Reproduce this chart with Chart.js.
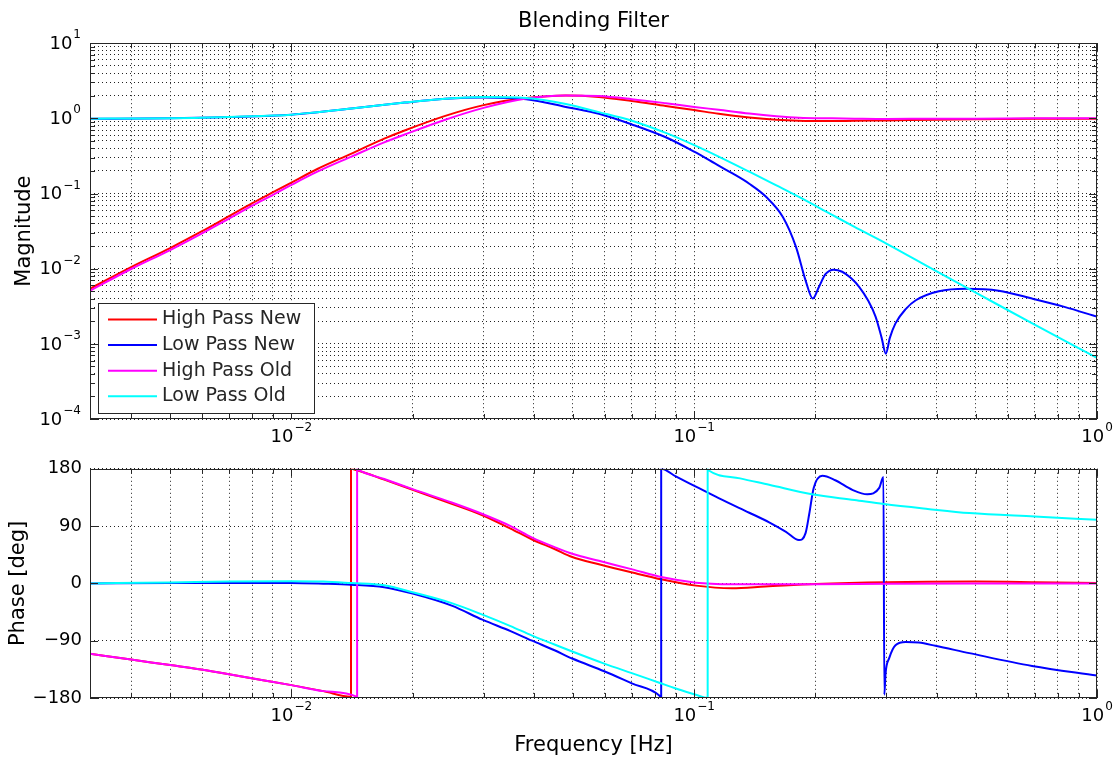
<!DOCTYPE html>
<html lang="en">
<head>
<meta charset="UTF-8">
<title>Blending Filter</title>
<script src="https://cdn.jsdelivr.net/npm/chart.js"></script>
<style>
  body { margin: 0; background: #fff; }
  #wrap { position: relative; width: 1116px; height: 760px; }
  canvas { position: absolute; left: 0; }
  #magChart { top: 0; }
  #phaseChart { top: 450px; }
</style>
</head>
<body>
<div id="wrap">
  <canvas id="magChart" width="1116" height="450"></canvas>
  <canvas id="phaseChart" width="1116" height="310"></canvas>
</div>
<script>
// ---- values ----
const seriesLabels = ['High Pass New', 'Low Pass New', 'High Pass Old', 'Low Pass Old'];
const seriesColors = ['#ff0000', '#0000ff', '#ff00ff', '#00ffff'];

// magnitude: shared frequency grid (Hz) for HP new, HP old, LP old
const magFreq = [0.00316, 0.004, 0.005, 0.006, 0.007, 0.008, 0.009, 0.01, 0.0116, 0.0141, 0.017, 0.0191, 0.0241, 0.03, 0.0383, 0.048, 0.058, 0.07, 0.085, 0.1, 0.115, 0.137, 0.16, 0.182, 0.22, 0.25, 0.3, 0.4, 0.5, 0.7, 1.0];
const hpNewMag = [0.0054, 0.0105, 0.0188, 0.0315, 0.05, 0.0745, 0.104, 0.14, 0.212, 0.34, 0.537, 0.69, 1.08, 1.5, 1.86, 2.02, 1.93, 1.7, 1.46, 1.29, 1.15, 1.03, 0.96, 0.93, 0.92, 0.93, 0.94, 0.96, 0.97, 0.99, 0.99];
const hpOldMag = [0.0051, 0.0099, 0.0177, 0.0295, 0.0465, 0.069, 0.096, 0.13, 0.195, 0.31, 0.48, 0.61, 0.96, 1.38, 1.84, 2.02, 1.98, 1.8, 1.59, 1.42, 1.3, 1.16, 1.07, 1.02, 1.0, 0.99, 0.98, 0.99, 0.99, 1.0, 1.0];
const lpOldMag = [0.99, 0.995, 1.0, 1.02, 1.04, 1.07, 1.09, 1.12, 1.21, 1.35, 1.52, 1.62, 1.83, 1.92, 1.86, 1.55, 1.21, 0.93, 0.64, 0.44, 0.31, 0.195, 0.128, 0.09, 0.052, 0.036, 0.0216, 0.0092, 0.0048, 0.0018, 0.00065];
// LP new has two notches, so it gets its own denser grid
const lpNewMagFreq = [0.00316, 0.005, 0.007, 0.01, 0.0141, 0.0191, 0.0241, 0.03, 0.0383, 0.048, 0.058, 0.07, 0.085, 0.1, 0.115, 0.1245, 0.137, 0.151, 0.166, 0.179, 0.189, 0.197, 0.204, 0.212, 0.222, 0.233, 0.245, 0.257, 0.27, 0.282, 0.292, 0.299, 0.306, 0.316, 0.335, 0.355, 0.405, 0.472, 0.57, 0.69, 0.83, 1.0];
const lpNewMag = [0.99, 1.0, 1.04, 1.12, 1.35, 1.62, 1.82, 1.9, 1.8, 1.42, 1.15, 0.83, 0.56, 0.36, 0.235, 0.185, 0.135, 0.0898, 0.0487, 0.0194, 0.007, 0.004, 0.0057, 0.0085, 0.0097, 0.0091, 0.0075, 0.0057, 0.0038, 0.0023, 0.0012, 0.00074, 0.0012, 0.00187, 0.0029, 0.0038, 0.005, 0.0054, 0.0051, 0.004, 0.0031, 0.0023];

// phase [deg]; a repeated frequency is a wrap between -180 and +180
const hpNewPhaseFreq = [0.00316, 0.004, 0.005, 0.0059, 0.007, 0.0085, 0.01, 0.012, 0.01406, 0.01406, 0.0145, 0.017, 0.02, 0.025, 0.0298, 0.035, 0.0396, 0.045, 0.0498, 0.058, 0.0702, 0.0834, 0.101, 0.124, 0.15, 0.2, 0.3, 0.5, 0.7, 1.0];
const hpNewPhase = [-110.5, -119.6, -128.3, -134.7, -142.8, -152, -159.8, -169.2, -178, 180, 178, 163, 147, 125, 107, 86, 69, 54, 41.5, 30, 17, 6, -3.5, -7.5, -5, -1, 2, 3, 2, 0.5];
const hpOldPhaseFreq = [0.00316, 0.004, 0.005, 0.0059, 0.007, 0.0085, 0.01, 0.012, 0.0145, 0.01456, 0.01456, 0.0147, 0.017, 0.02, 0.025, 0.0298, 0.035, 0.0396, 0.045, 0.0498, 0.058, 0.0702, 0.0834, 0.101, 0.124, 0.15, 0.2, 0.3, 0.5, 1.0];
const hpOldPhase = [-110.5, -119.6, -128.3, -134.7, -142.8, -152, -159.8, -169.2, -178, -179.5, 180, 178, 164, 148, 127, 109, 90, 72, 57, 46.5, 35.5, 22, 9.5, 1.2, -1.3, -1.5, -1.5, -0.5, 0, 0];
const lpNewPhaseFreq = [0.00316, 0.005, 0.007, 0.01, 0.012, 0.0141, 0.017, 0.02, 0.025, 0.0298, 0.035, 0.0396, 0.045, 0.0498, 0.0598, 0.07, 0.0819, 0.0828, 0.0828, 0.09, 0.101, 0.115, 0.137, 0.1535, 0.169, 0.182, 0.189, 0.193, 0.198, 0.208, 0.224, 0.247, 0.269, 0.288, 0.295, 0.2965, 0.2985, 0.305, 0.316, 0.335, 0.361, 0.397, 0.482, 0.69, 1.0];
const lpNewPhase = [0, 0.5, 0.5, 0.5, -0.5, -2, -6, -16, -35, -57, -75, -90, -105, -118, -138, -157, -176, -180, 180, 168, 152, 134, 111, 96, 81, 68, 79, 109, 150, 169, 162, 147, 140, 150, 167, -175, -142, -117, -97, -92, -93, -98, -109.5, -129.6, -144.7];
const lpOldPhaseFreq = [0.00316, 0.005, 0.007, 0.01, 0.012, 0.0141, 0.017, 0.02, 0.025, 0.0298, 0.035, 0.0396, 0.045, 0.0498, 0.0598, 0.07, 0.0819, 0.09, 0.101, 0.108, 0.108, 0.109, 0.13, 0.1535, 0.196, 0.25, 0.296, 0.38, 0.482, 0.7, 1.0];
const lpOldPhase = [0, 1.5, 3, 3.5, 3, 0.5, -3, -14, -31, -49, -67, -82, -96, -107, -126, -141, -156, -165, -175, -180, 180, 177, 165, 155, 140, 131, 124.6, 117, 110.5, 105, 100];

// axes
const freqMin = 0.0031623, freqMax = 1;
const magMin = 1e-4, magMax = 10;
const freqDecades = [0.01, 0.1, 1];
const magDecades = [1e-4, 1e-3, 1e-2, 1e-1, 1, 10];
const phaseTicks = [-180, -90, 0, 90, 180];

const FONT = 'DejaVu Sans';
Chart.defaults.font.family = FONT;
Chart.defaults.color = '#000';

// 1..9 x 10^n inside [lo, hi], used for the log grid
function logTicks(lo, hi) {
  const out = [];
  for (let e = Math.floor(Math.log10(lo)); e <= Math.ceil(Math.log10(hi)); e++) {
    for (let k = 1; k <= 9; k++) {
      const v = Number((k * Math.pow(10, e)).toPrecision(4));
      if (v >= lo * 0.9999 && v <= hi * 1.0001) out.push(v);
    }
  }
  return out;
}
const isDecade = v => Math.abs(Math.log10(v) - Math.round(Math.log10(v))) < 1e-6;

function lineSet(i, freq, vals) {
  return {
    label: seriesLabels[i],
    data: freq.map((f, k) => ({ x: f, y: vals[k] })),
    borderColor: seriesColors[i],
    backgroundColor: seriesColors[i],
    borderWidth: 2,
    pointRadius: 0,
    fill: false,
    cubicInterpolationMode: 'monotone',
    order: 3 - i
  };
}

// box + inward tick marks like the original
const frameTicks = {
  id: 'frameTicks',
  afterDatasetsDraw(chart, args, opts) {
    const { ctx, chartArea: a } = chart;
    const xs = chart.scales.x, ys = chart.scales.y;
    ctx.save();
    ctx.strokeStyle = '#262626';
    ctx.lineWidth = 1;
    ctx.beginPath();
    xs.ticks.forEach(t => {
      const px = Math.round(xs.getPixelForValue(t.value)) + 0.5;
      const len = isDecade(t.value) ? 8 : 5;
      ctx.moveTo(px, a.bottom); ctx.lineTo(px, a.bottom - len);
      ctx.moveTo(px, a.top); ctx.lineTo(px, a.top + len);
    });
    ys.ticks.forEach(t => {
      const py = Math.round(ys.getPixelForValue(t.value)) + 0.5;
      const len = (!opts.logY || isDecade(t.value)) ? 8 : 5;
      ctx.moveTo(a.left, py); ctx.lineTo(a.left + len, py);
      ctx.moveTo(a.right, py); ctx.lineTo(a.right - len, py);
    });
    ctx.stroke();
    ctx.strokeRect(Math.round(a.left) + 0.5, Math.round(a.top) + 0.5, Math.round(a.width) - 1, Math.round(a.height) - 1);
    ctx.restore();
  }
};

// "10" with a raised exponent for the log axes
const decadeLabels = {
  id: 'decadeLabels',
  afterDraw(chart, args, opts) {
    const { ctx, chartArea: a } = chart;
    ctx.save();
    ctx.fillStyle = '#000';
    ctx.textBaseline = 'middle';
    ctx.textAlign = 'left';
    const drawPow = (v, x, y, align) => {
      const e = Math.round(Math.log10(v));
      const ex = (e < 0 ? '\u2212' : '') + Math.abs(e);
      ctx.font = '18px "' + FONT + '"';
      const w1 = ctx.measureText('10').width;
      ctx.font = '12px "' + FONT + '"';
      const w2 = ctx.measureText(ex).width;
      const left = align === 'right' ? x - w1 - w2 - 1 : x - (w1 + w2 + 1) / 2;
      ctx.font = '18px "' + FONT + '"';
      ctx.fillText('10', left, y);
      ctx.font = '12px "' + FONT + '"';
      ctx.fillText(ex, left + w1 + 1, y - 9);
    };
    if (opts.x) freqDecades.forEach(v => drawPow(v, chart.scales.x.getPixelForValue(v), a.bottom + 18, 'center'));
    if (opts.y) magDecades.forEach(v => drawPow(v, a.left - 9, chart.scales.y.getPixelForValue(v) + 1, 'right'));
    ctx.restore();
  }
};

// legend box in the lower-left corner of the magnitude plot
const boxLegend = {
  id: 'boxLegend',
  afterDraw(chart, args, opts) {
    if (!opts.show) return;
    const { ctx, chartArea: a } = chart;
    const w = 216, h = 110, rowH = 25.6;
    const x0 = Math.round(a.left) + 8, y0 = Math.round(a.bottom) - 6 - h;
    ctx.save();
    ctx.fillStyle = '#fff';
    ctx.fillRect(x0, y0, w, h);
    ctx.strokeStyle = '#262626';
    ctx.lineWidth = 1;
    ctx.strokeRect(x0 + 0.5, y0 + 0.5, w, h);
    ctx.font = '19px "' + FONT + '"';
    ctx.textBaseline = 'middle';
    ctx.textAlign = 'left';
    seriesLabels.forEach((lab, i) => {
      const yy = y0 + 16.5 + i * rowH;
      ctx.strokeStyle = seriesColors[i];
      ctx.lineWidth = 2;
      ctx.beginPath();
      ctx.moveTo(x0 + 10, yy); ctx.lineTo(x0 + 59, yy);
      ctx.stroke();
      ctx.fillStyle = '#262626';
      ctx.fillText(lab, x0 + 64, yy);
    });
    ctx.restore();
  }
};

const dotted = {
  grid: { color: '#222', lineWidth: 1, drawTicks: false },
  border: { display: false, dash: [1, 3] }
};

const freqAxis = (h, title) => ({
  type: 'logarithmic', min: freqMin, max: freqMax,
  afterBuildTicks: s => { s.ticks = logTicks(freqMin, freqMax).map(v => ({ value: v })); },
  afterFit: s => { s.height = h; },
  ticks: { display: false, autoSkip: false },
  grid: dotted.grid, border: dotted.border,
  title: title ? { display: true, text: title, font: { size: 21 }, color: '#000', padding: { top: 0, bottom: 2 } } : { display: false }
});

new Chart(document.getElementById('magChart'), {
  type: 'line',
  data: {
    datasets: [
      lineSet(0, magFreq, hpNewMag),
      lineSet(1, lpNewMagFreq, lpNewMag),
      lineSet(2, magFreq, hpOldMag),
      lineSet(3, magFreq, lpOldMag)
    ]
  },
  options: {
    responsive: false, animation: false, devicePixelRatio: 1, events: [],
    layout: { padding: { left: 0, right: 19, top: 0, bottom: 0 } },
    scales: {
      x: freqAxis(31, null),
      y: {
        type: 'logarithmic', min: magMin, max: magMax,
        afterBuildTicks: s => { s.ticks = logTicks(magMin, magMax).map(v => ({ value: v })); },
        afterFit: s => { s.width = 90; },
        ticks: { display: false, autoSkip: false },
        grid: dotted.grid, border: dotted.border,
        title: { display: true, text: 'Magnitude', font: { size: 21 }, color: '#000', padding: { top: 12, bottom: 0 } }
      }
    },
    plugins: {
      legend: { display: false },
      tooltip: { enabled: false },
      title: {
        display: true, text: 'Blending Filter', fullSize: false,
        font: { size: 21, weight: 'normal' }, color: '#000',
        padding: { top: 9, bottom: 9 }
      },
      frameTicks: { logY: true },
      decadeLabels: { x: true, y: true },
      boxLegend: { show: true }
    }
  },
  plugins: [frameTicks, decadeLabels, boxLegend]
});

new Chart(document.getElementById('phaseChart'), {
  type: 'line',
  data: {
    datasets: [
      lineSet(0, hpNewPhaseFreq, hpNewPhase),
      lineSet(1, lpNewPhaseFreq, lpNewPhase),
      lineSet(2, hpOldPhaseFreq, hpOldPhase),
      lineSet(3, lpOldPhaseFreq, lpOldPhase)
    ]
  },
  options: {
    responsive: false, animation: false, devicePixelRatio: 1, events: [],
    layout: { padding: { left: 0, right: 19, top: 9, bottom: 0 } },
    scales: {
      x: freqAxis(62, 'Frequency [Hz]'),
      y: {
        type: 'linear', min: -180, max: 180,
        afterBuildTicks: s => { s.ticks = phaseTicks.map(v => ({ value: v })); },
        afterFit: s => { s.width = 90; },
        ticks: {
          autoSkip: false, padding: 8, color: '#000', font: { size: 18 },
          callback: v => String(v).replace('-', '\u2212')
        },
        grid: dotted.grid, border: dotted.border,
        title: { display: true, text: 'Phase [deg]', font: { size: 21 }, color: '#000', padding: { top: 6, bottom: 0 } }
      }
    },
    plugins: {
      legend: { display: false },
      tooltip: { enabled: false },
      frameTicks: { logY: false },
      decadeLabels: { x: true, y: false }
    }
  },
  plugins: [frameTicks, decadeLabels]
});
</script>
</body>
</html>
